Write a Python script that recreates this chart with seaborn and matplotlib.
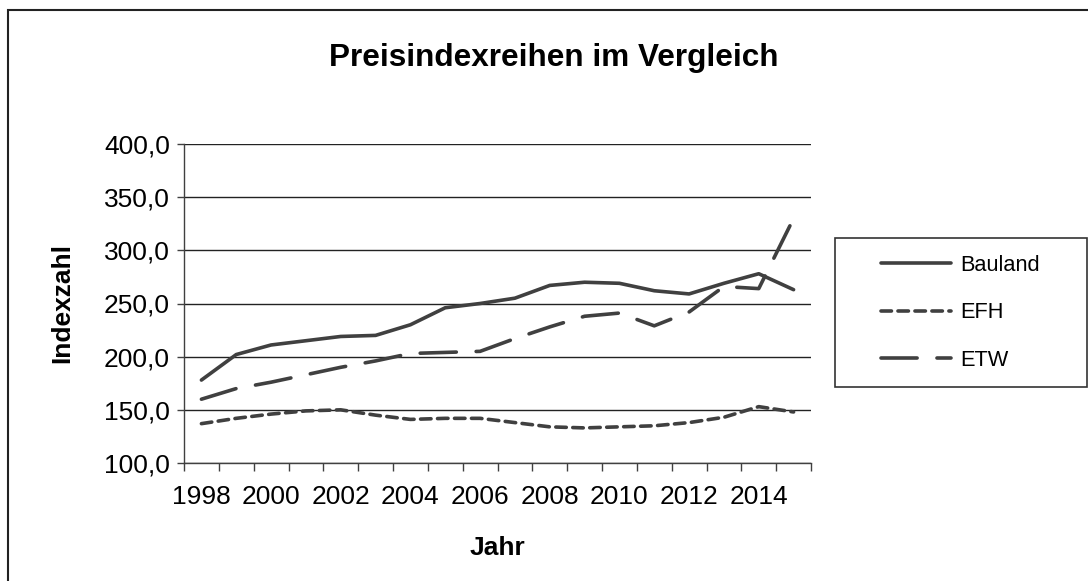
import numpy as np
import pandas as pd
import seaborn as sns
import matplotlib.pyplot as plt
from matplotlib.patches import Rectangle
from matplotlib.ticker import FuncFormatter, MultipleLocator

jahre = list(range(1998, 2016))
bauland = [178, 202, 211, 215, 219, 220, 230, 246, 250, 255, 267, 270, 269, 262, 259, 269, 278, 263]
efh = [137, 142, 146, 149, 150, 145, 141, 142, 142, 138, 134, 133, 134, 135, 138, 143, 153, 148]
etw = [160, 170, 176, 183, 190, 196, 203, 204, 205, 217, 228, 238, 241, 229, 242, 266, 264, 330]
reihen = ["Bauland", "EFH", "ETW"]

df = pd.DataFrame({"Jahr": jahre, "Bauland": bauland, "EFH": efh, "ETW": etw})
df = df.melt(id_vars="Jahr", var_name="Reihe", value_name="Index")

sns.set_style("white")
plt.rcParams['font.family'] = ['Liberation Sans', 'DejaVu Sans']
plt.rcParams['text.color'] = 'black'
plt.rcParams['xtick.labelcolor'] = 'black'
plt.rcParams['ytick.labelcolor'] = 'black'

fig = plt.figure(figsize=(10.88, 5.81), dpi=100)
ax = fig.add_axes([184/1088, 1-463/581, (811-184)/1088, (463-144)/581])

grau = "#404040"
ax = sns.lineplot(data=df, x="Jahr", y="Index", style="Reihe", style_order=reihen,
                  dashes={"Bauland": "", "EFH": (2.9, 1.8), "ETW": (10, 5.5)},
                  color=grau, linewidth=2.6, ax=ax, legend=False)
for ln in ax.get_lines():
    ln.set_dash_capstyle("round")
    ln.set_solid_capstyle("round")

ax.set_xlim(1997.5, 2015.5)
ax.set_ylim(100, 400)
ax.set_xticks(jahre[::2])
ax.xaxis.set_minor_locator(MultipleLocator(1, offset=0.5))
ax.yaxis.set_major_locator(MultipleLocator(50))
ax.yaxis.set_major_formatter(FuncFormatter(lambda v, p: f"{v:.1f}".replace(".", ",")))

ax.tick_params(axis="x", which="major", length=0, pad=16, labelsize=19)
ax.tick_params(axis="x", which="minor", length=6, width=1, color=grau, direction="out", bottom=True)
ax.tick_params(axis="y", length=5, width=1, color=grau, direction="out", left=True, pad=5, labelsize=19)

ax.grid(axis="y", color="#222222", linewidth=1)
ax.get_ygridlines()[-1].set_visible(False)
ax.get_ygridlines()[0].set_visible(False)
for s in ["top", "right"]:
    ax.spines[s].set_visible(False)
for s in ["left", "bottom"]:
    ax.spines[s].set_color(grau)
    ax.spines[s].set_linewidth(1)

ax.set_xlabel("")
ax.set_ylabel("")
fig.text(497/1088, 1-548/581, "Jahr", fontsize=19, fontweight="bold", ha="center", va="center")
fig.text(62/1088, 1-303/581, "Indexzahl", fontsize=19, fontweight="bold", ha="center", va="center", rotation=90)
fig.text(554/1088, 1-58/581, "Preisindexreihen im Vergleich", fontsize=22.7, fontweight="bold",
         ha="center", va="center")

handles = ax.get_lines()[:3]
leg = fig.legend(handles, reihen, loc="upper left", bbox_to_anchor=(870/1088, 1-244/581),
                 frameon=False, fontsize=15.7, borderpad=0, handlelength=3.2,
                 handletextpad=0.45, labelspacing=1.21)

fig.patches.append(Rectangle((835/1088, 1-387/581), 252/1088, 149/581, transform=fig.transFigure,
                             fill=False, edgecolor="#333333", linewidth=1.2))
fig.patches.append(Rectangle((8/1088, -0.2), 1.5, 1.2 - 10/581, transform=fig.transFigure,
                             fill=False, edgecolor="#222222", linewidth=1.5))

fig.savefig("out.png", dpi=100)
